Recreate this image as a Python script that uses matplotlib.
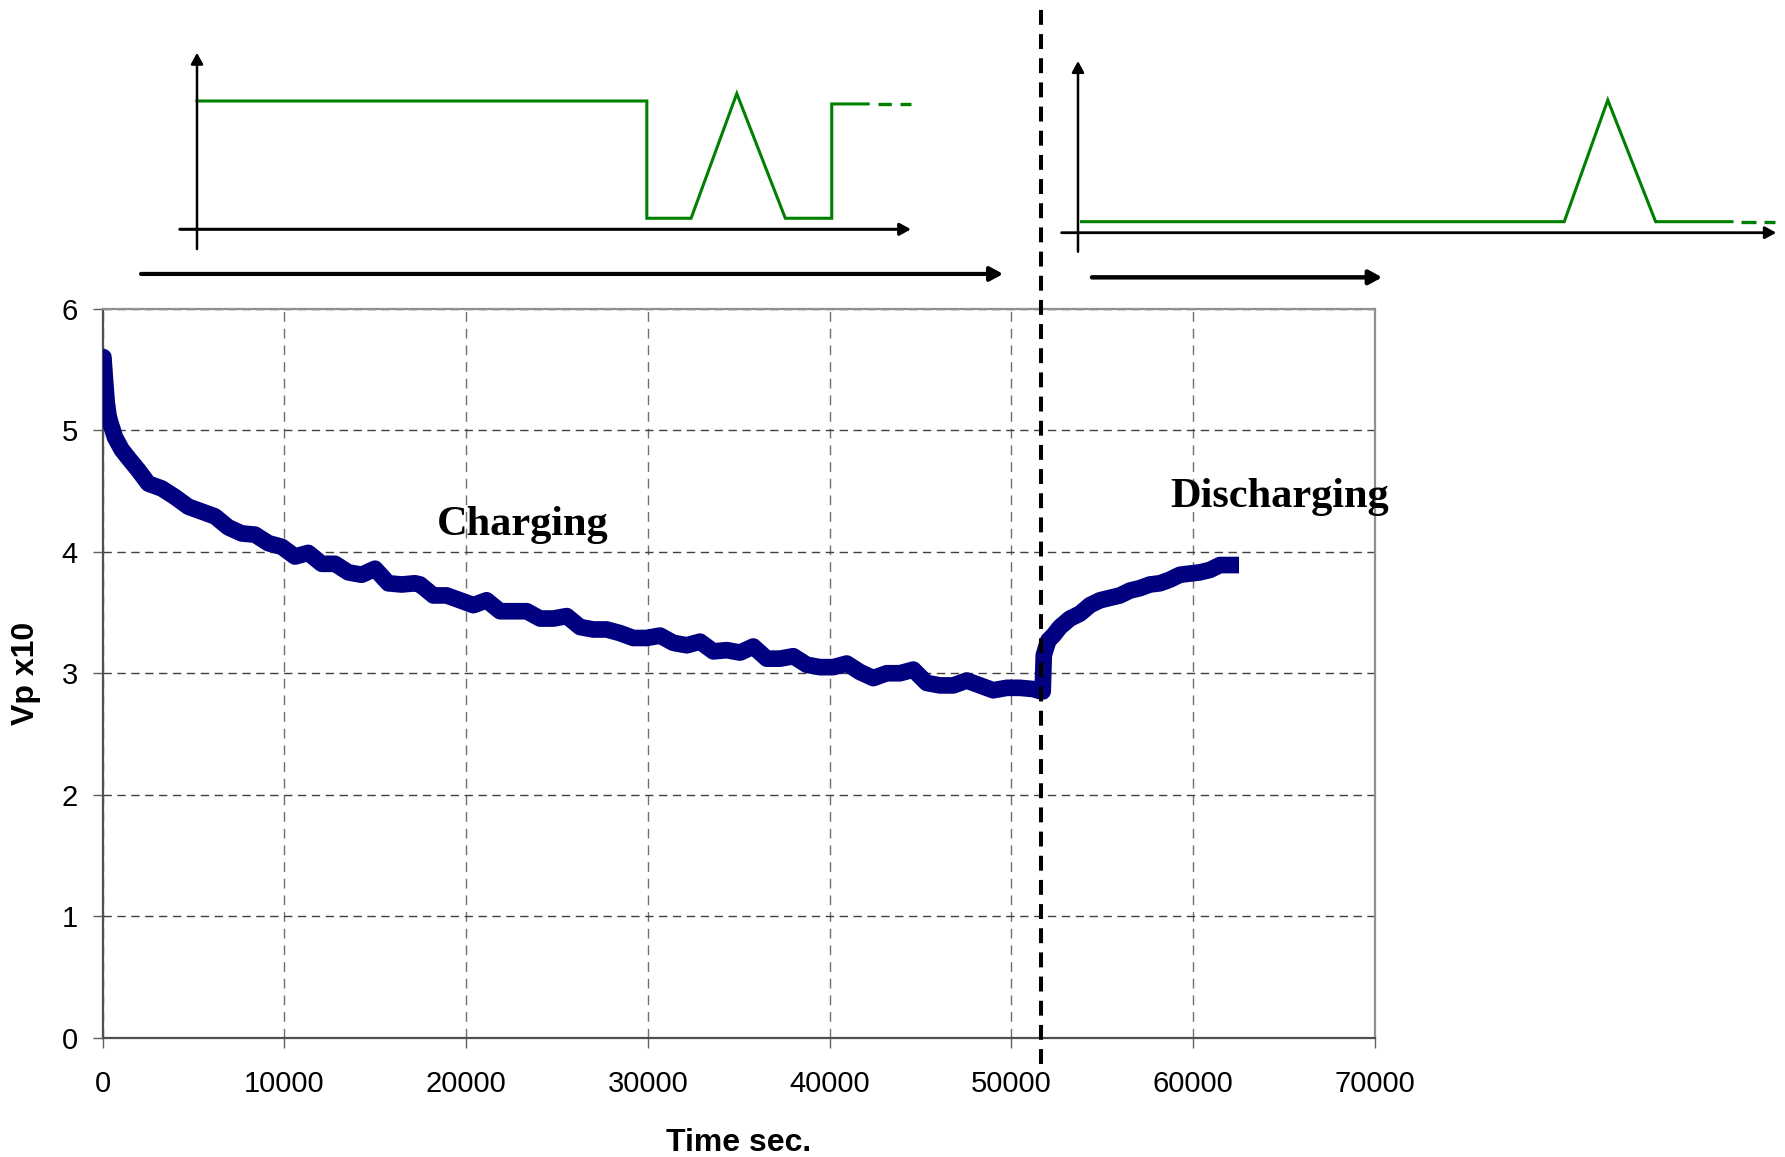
import matplotlib
matplotlib.use("Agg")
import matplotlib.pyplot as plt

W, H, DPI = 1785, 1157, 100

# ---------------- main data ----------------
time_s = [0, 50, 120, 230, 330, 413, 688, 1054, 1420, 1970, 2520, 3255, 3988, 4720,
          5457, 6190, 6920, 7657, 8390, 9120, 9860, 10590, 11320, 12060, 12790, 13520,
          14260, 14990, 15720, 16460, 17190, 17470, 18200, 18930, 19670, 20400, 21130,
          21870, 22600, 23340, 24070, 24800, 25540, 26270, 27000, 27740, 28470, 29200,
          29940, 30670, 31400, 32140, 32870, 33600, 34340, 35070, 35800, 36540, 37270,
          38000, 38740, 39470, 40200, 40940, 41670, 42400, 43140, 43870, 44600, 45340,
          46070, 46800, 47540, 48270, 49000, 49740, 50470, 51200, 51650, 51720, 51780,
          52030, 52300, 52670, 53220, 53770, 54320, 54870, 55420, 55970, 56520, 57070,
          57620, 58170, 58720, 59270, 59820, 60370, 60920, 61470, 62020, 62520]
vp_x10 = [5.58, 5.60, 5.45, 5.23, 5.12, 5.07, 4.94, 4.84, 4.77, 4.67, 4.56, 4.52, 4.45, 4.37,
          4.33, 4.29, 4.20, 4.15, 4.14, 4.07, 4.04, 3.96, 3.99, 3.90, 3.90, 3.83,
          3.81, 3.86, 3.74, 3.73, 3.74, 3.73, 3.64, 3.64, 3.60, 3.56, 3.60,
          3.51, 3.51, 3.51, 3.45, 3.45, 3.47, 3.38, 3.36, 3.36, 3.33, 3.29,
          3.29, 3.31, 3.25, 3.23, 3.26, 3.18, 3.19, 3.17, 3.22, 3.12, 3.12,
          3.14, 3.07, 3.05, 3.05, 3.08, 3.01, 2.96, 3.00, 3.00, 3.03, 2.92,
          2.90, 2.90, 2.94, 2.90, 2.86, 2.88, 2.88, 2.87, 2.85, 2.85, 3.15,
          3.27, 3.31, 3.38, 3.45, 3.49, 3.56, 3.60, 3.62, 3.64, 3.68, 3.70,
          3.73, 3.74, 3.77, 3.81, 3.82, 3.83, 3.85, 3.89, 3.89, 3.89]

x_ticks = [0, 10000, 20000, 30000, 40000, 50000, 60000, 70000]
y_ticks = [0, 1, 2, 3, 4, 5, 6]
split_time = 51650

x_label = "Time sec."
y_label = "Vp x10"
charging_text = "Charging"
charging_pos = (18380, 4.14)
discharging_text = "Discharging"
discharging_pos = (58740, 4.37)

# ---------------- schematic waveforms (arbitrary units) ----------------
charge_wave_t = [0, 63.0, 63.0, 69.2, 75.6, 82.4, 88.9, 88.9, 94.0]
charge_wave_v = [1.0, 1.0, 0.086, 0.086, 1.058, 0.086, 0.086, 0.977, 0.977]
charge_tail_t = [95.4, 100.0]
charge_tail_v = [0.977, 0.977]
discharge_wave_t = [0.5, 68.1, 74.2, 80.9, 91.6]
discharge_wave_v = [0.086, 0.086, 1.034, 0.086, 0.086]
discharge_tail_t = [92.9, 97.6]
discharge_tail_v = [0.086, 0.086]

# axis arrows of the schematics: (start, end)
charge_haxis = ((-2.4, 0), (100.0, 0))
charge_vaxis = ((0, -0.154), (0, 1.376))
charge_span = ((-7.84, -0.348), (112.9, -0.348))
discharge_haxis = ((-2.3, 0), (97.8, 0))
discharge_vaxis = ((0, -0.148), (0, 1.338))
discharge_span = ((1.96, -0.348), (42.6, -0.348))

# ---------------- figure ----------------
plt.rcParams["font.family"] = ["Liberation Sans", "DejaVu Sans"]
fig = plt.figure(figsize=(W / DPI, H / DPI), dpi=DPI)


def px_axes(x0, x1, y0, y1):
    return fig.add_axes([x0 / W, 1 - y1 / H, (x1 - x0) / W, (y1 - y0) / H])


ax = px_axes(102.5, 1375, 308.5, 1038)
ax.plot(time_s, vp_x10, color="#000080", lw=12, solid_capstyle="butt",
        solid_joinstyle="round", zorder=3)
ax.set_xlim(0, 70000)
ax.set_ylim(0, 6)
ax.set_xticks(x_ticks)
ax.set_yticks(y_ticks)
ax.tick_params(axis="both", direction="out", length=7.2, width=1.0, color="#606060",
               labelsize=21)
ax.tick_params(axis="x", pad=16)
ax.tick_params(axis="y", pad=10.5)
ax.yaxis.grid(True, color="#404040", lw=1.0, linestyle=(0, (6, 4)))
ax.xaxis.grid(True, color="#707070", lw=1.0, linestyle=(0, (7, 5)))
ax.set_axisbelow(True)
for side in ["left", "bottom"]:
    ax.spines[side].set_color("#505050")
    ax.spines[side].set_linewidth(1.6)
for side in ["top", "right"]:
    ax.spines[side].set_color("#909090")
    ax.spines[side].set_linewidth(1.6)

ax.set_xlabel(x_label, fontsize=23, fontweight="bold", va="center")
ax.xaxis.set_label_coords(0.5, -0.144)
ax.set_ylabel(y_label, fontsize=23, fontweight="bold", va="center")
ax.yaxis.set_label_coords(-0.060, 0.5)

serif = ["Liberation Serif", "DejaVu Serif"]
ax.text(*charging_pos, charging_text, family=serif, fontweight="bold", fontsize=30.5,
        ha="left", va="baseline")
ax.text(*discharging_pos, discharging_text, family=serif, fontweight="bold", fontsize=30.5,
        ha="left", va="baseline")

ax.axvline(split_time, ymin=-0.036, ymax=1.416, clip_on=False, color="black",
           lw=2.9, linestyle=(0, (3.7, 2.3)), zorder=5)


# ---------------- schematic insets ----------------
def inset(origin, box, sx=7.14, sy=128.3):
    ox, oy = origin
    x0, x1, y0, y1 = box
    a = px_axes(x0, x1, y0, y1)
    a.set_xlim((x0 - ox) / sx, (x1 - ox) / sx)
    a.set_ylim((oy - y1) / sy, (oy - y0) / sy)
    a.axis("off")
    a.patch.set_alpha(0)
    return a


def arrow(a, seg, lw, ms, head=True):
    (xs, ys), (xe, ye) = seg
    style = "-|>,head_length=0.55,head_width=0.3" if head else "-"
    a.annotate("", xy=(xe, ye), xytext=(xs, ys),
               arrowprops=dict(arrowstyle=style, lw=lw, color="black",
                               shrinkA=0, shrinkB=0, mutation_scale=ms),
               annotation_clip=False)


green = "#008000"

ax_c = inset((197, 229.3), (120, 1015, 20, 300))
ax_c.plot(charge_wave_t, charge_wave_v, color=green, lw=2.2, solid_joinstyle="miter")
ax_c.plot(charge_tail_t, charge_tail_v, color=green, lw=2.4, linestyle=(0, (4, 2.6)))
arrow(ax_c, charge_haxis, 2.2, 12)
arrow(ax_c, charge_vaxis, 1.8, 12)
arrow(ax_c, charge_span, 3.0, 14)

ax_d = inset((1078, 232.7), (1050, 1785, 20, 300))
ax_d.plot(discharge_wave_t, discharge_wave_v, color=green, lw=2.2, solid_joinstyle="miter")
ax_d.plot(discharge_tail_t, discharge_tail_v, color=green, lw=2.4, linestyle=(0, (4.5, 2.4)))
arrow(ax_d, discharge_haxis, 2.0, 12)
arrow(ax_d, discharge_vaxis, 1.8, 12)
arrow(ax_d, discharge_span, 3.2, 14)

fig.savefig("out.png", dpi=DPI)
